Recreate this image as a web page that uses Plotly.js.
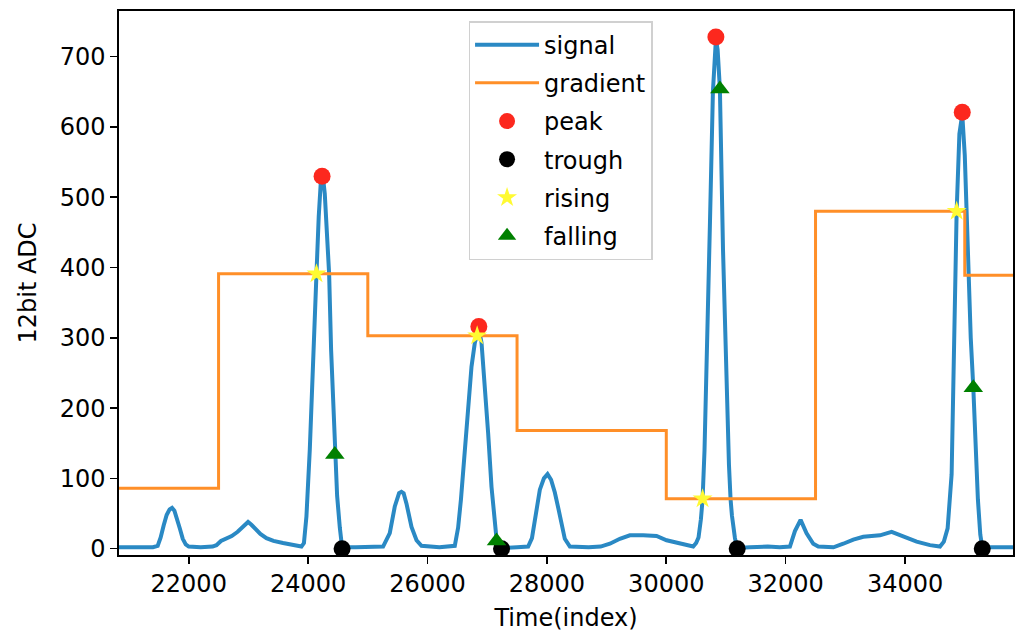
<!DOCTYPE html>
<html><head><meta charset="utf-8">
<script src="https://cdn.plot.ly/plotly-3.0.1.min.js"></script>
<style>html,body{margin:0;padding:0;background:#fff}</style>
</head><body><div id="chart" style="width:1016px;height:634px"></div>
<script>
const signalX = [20830,21000,21200,21400,21480,21530,21580,21630,21680,21720,21760,21800,21850,21900,21950,22000,22200,22400,22464,22540,22632,22720,22820,22920,22994,23050,23120,23200,23302,23420,23580,23700,23800,23888,23930,23972,24028,24067,24100,24140,24178,24212,24234,24251,24279,24318,24352,24385,24419,24447,24486,24531,24569,24800,25000,25256,25368,25452,25524,25564,25600,25648,25732,25816,25899,26200,26457,26513,26560,26625,26681,26737,26793,26832,26860,26905,26960,27016,27072,27128,27156,27183,27240,27500,27686,27750,27798,27882,27950,28011,28070,28133,28190,28245,28300,28385,28700,28900,29055,29222,29390,29613,29837,30005,30228,30451,30500,30540,30580,30608,30640,30680,30731,30781,30831,30860,30898,30950,31000,31050,31077,31100,31150,31188,31400,31700,31900,32071,32155,32250,32350,32462,32546,32800,32965,33133,33300,33467,33579,33775,33970,34194,34417,34585,34650,34713,34780,34820,34864,34910,34958,35000,35059,35100,35143,35180,35220,35260,35293,35500,35808];
const signalY = [2,2,3,2,4,16,33,48,56,58,54,44,29,14,6,3,2,3,5,11,15,18,24,32,38,34,27,21,15,11,8,6,4,3,8,46,141,236,330,391,473,521,528,527,505,440,391,283,200,134,75,30,2,2,3,3,22,60,79,81,79,64,31,12,4,2,4,30,70,141,212,259,293,303,313,293,236,164,88,31,14,7,1,2,3,15,41,84,100,106,98,80,58,36,14,3,2,3,7,14,19,19,18,12,7,3,8,16,42,70,139,259,462,650,725,710,654,426,247,119,70,47,15,1,2,3,2,3,25,41,22,7,3,2,7,13,17,18,19,24,17,10,5,3,10,29,106,280,480,590,618,560,389,300,229,150,70,20,2,2,2];
const gradientX = [20832,22500,25000,27500,30000,32500,35000,35808];
const gradientY = [86,391,303,168,71,480,389,389];
const peakX = [24234,26860,30831,34958];
const peakY = [530,316,728,621];
const troughX = [24569,27240,31188,35293];
const troughY = [0,0,0,0];
const risingX = [24140,26832,30608,34864];
const risingY = [391,303,71,480];
const fallingX = [24447,27156,30898,35143];
const fallingY = [134,11,654,229];

const F = 'DejaVu Sans, sans-serif';
const traces = [
  {x: signalX, y: signalY, name: 'signal', mode: 'lines', line: {color: 'rgb(42,137,196)', width: 4}, legendgroup: 'a'},
  {x: gradientX, y: gradientY, name: 'gradient', mode: 'lines', line: {color: 'rgb(255,143,40)', width: 3, shape: 'hv'}, legendgroup: 'b'},
  {x: peakX, y: peakY, name: 'peak', mode: 'markers', marker: {color: 'rgb(252,40,30)', size: 17, symbol: 'circle'}, legendgroup: 'c'},
  {x: troughX, y: troughY, name: 'trough', mode: 'markers', marker: {color: 'black', size: 17, symbol: 'circle'}, legendgroup: 'd'},
  {x: risingX, y: risingY, name: 'rising', mode: 'markers', marker: {color: 'rgb(255,250,50)', size: 15, symbol: 'star'}, legendgroup: 'e'},
  {x: fallingX, y: fallingY, name: 'falling', mode: 'markers', marker: {color: 'rgb(0,128,0)', size: 17, symbol: 'triangle-up'}, legendgroup: 'f'}
];
const layout = {
  width: 1016, height: 634,
  margin: {l: 119, r: 3, t: 11, b: 79},
  paper_bgcolor: 'white', plot_bgcolor: 'white',
  font: {family: F, size: 24, color: 'black'},
  showlegend: true,
  legend: {x: 0.391, y: 0.9815, xanchor: 'left', yanchor: 'top', bgcolor: 'rgba(255,255,255,0.85)', bordercolor: '#d0d0d0', borderwidth: 1.5, font: {family: F, size: 24, color: 'black'}, itemwidth: 64, tracegroupgap: 4, traceorder: 'grouped'},
  xaxis: {range: [20832, 35808], showgrid: false, zeroline: false, showline: true, linecolor: 'black', linewidth: 1.6, mirror: true, ticks: 'outside', ticklen: 7, tickwidth: 1.6, tickcolor: 'black', tickvals: [22000,24000,26000,28000,30000,32000,34000], ticktext: ['22000','24000','26000','28000','30000','32000','34000'], title: {text: 'Time(index)', font: {family: F, size: 24}, standoff: 12}, automargin: false},
  yaxis: {range: [-9, 765], showgrid: false, zeroline: false, showline: true, linecolor: 'black', linewidth: 1.6, mirror: true, ticks: 'outside', ticklen: 7, tickwidth: 1.6, tickcolor: 'black', tickvals: [0,100,200,300,400,500,600,700], title: {text: '12bit ADC', font: {family: F, size: 24}, standoff: 16}, automargin: false}
};
Plotly.newPlot('chart', traces, layout, {displayModeBar: false, staticPlot: true});
</script></body></html>
